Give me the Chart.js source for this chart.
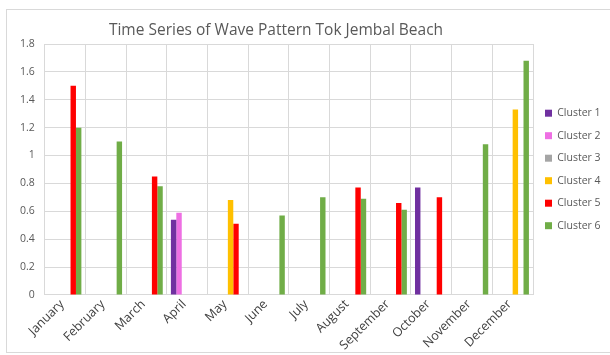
<!DOCTYPE html>
<html>
<head>
<meta charset="utf-8">
<script src="https://cdn.jsdelivr.net/npm/chart.js@4/dist/chart.umd.min.js"></script>
<style>
  html, body { margin: 0; padding: 0; background: #ffffff; }
  #wrap { position: relative; width: 610px; height: 355px; overflow: hidden; }
  #frame { position: absolute; left: 6px; top: 9px; width: 700px; height: 344px; border: 1px solid #d9d9d9; box-sizing: border-box; }
  #chart { position: absolute; left: 0; top: 0; }
</style>
</head>
<body>
<div id="wrap">
  <div id="frame"></div>
  <canvas id="chart" width="610" height="355"></canvas>
</div>
<script>
// Months on the category axis
const months = ['January', 'February', 'March', 'April', 'May', 'June',
                'July', 'August', 'September', 'October', 'November', 'December'];

// Wave height per cluster and month (null = no value that month)
const cluster1 = [null, null, null, 0.54, null, null, null, null, null, 0.77, null, null];
const cluster2 = [null, null, null, 0.59, null, null, null, null, null, null, null, null];
const cluster3 = [null, null, null, null, null, null, null, null, null, null, null, null];
const cluster4 = [null, null, null, null, 0.68, null, null, null, null, null, null, 1.33];
const cluster5 = [1.50, null, 0.85, null, 0.51, null, null, 0.77, 0.66, 0.70, null, null];
const cluster6 = [1.20, 1.10, 0.78, null, null, 0.57, 0.70, 0.69, 0.61, null, 1.08, 1.68];

const seriesNames = ['Cluster 1', 'Cluster 2', 'Cluster 3', 'Cluster 4', 'Cluster 5', 'Cluster 6'];
const seriesColors = ['#7030A0', '#EE6FE3', '#A5A5A5', '#FFC000', '#FF0000', '#70AD47'];
const seriesValues = [cluster1, cluster2, cluster3, cluster4, cluster5, cluster6];

// Y axis range
const yMin = 0;
const yMax = 1.8;
const yStep = 0.2;

const chartTitle = 'Time Series of Wave Pattern Tok Jembal Beach';

const FONT = "'Open Sans', 'Liberation Sans', sans-serif";
const GRID = '#d9d9d9';

// Title centred over the whole chart frame (which runs past the right of the canvas)
const frameTitle = {
  id: 'frameTitle',
  afterDraw(chart, args, opts) {
    const ctx = chart.ctx;
    ctx.save();
    ctx.font = opts.font;
    ctx.fillStyle = opts.color;
    ctx.textAlign = 'center';
    ctx.textBaseline = 'middle';
    ctx.fillText(opts.text, opts.x, opts.y);
    ctx.restore();
  }
};

new Chart(document.getElementById('chart'), {
  type: 'bar',
  data: {
    labels: months,
    datasets: seriesValues.map((vals, i) => ({
      label: seriesNames[i],
      data: vals,
      backgroundColor: seriesColors[i],
      borderWidth: 0,
      categoryPercentage: 0.8,
      barPercentage: 1.0
    }))
  },
  plugins: [frameTitle],
  options: {
    responsive: false,
    animation: false,
    devicePixelRatio: 1,
    layout: { padding: { left: 10, right: 0, top: 44, bottom: 0 } },
    plugins: {
      frameTitle: {
        text: chartTitle,
        color: '#595959',
        font: "15.5px " + FONT,
        x: 276,
        y: 31
      },
      title: { display: false },
      legend: {
        position: 'right',
        fullSize: false,
        align: 'center',
        maxWidth: 77,
        labels: {
          boxWidth: 7,
          boxHeight: 7,
          padding: 12,
          color: '#595959',
          font: { family: FONT, size: 10.5 }
        }
      },
      tooltip: { enabled: false }
    },
    scales: {
      x: {
        offset: true,
        grid: { color: GRID, offset: true, drawTicks: false },
        border: { color: GRID },
        ticks: {
          color: '#404040',
          font: { family: FONT, size: 12.5 },
          minRotation: 45,
          maxRotation: 45,
          autoSkip: false,
          padding: 2,
          labelOffset: -3
        },
        // slanted month names may hang past the plot's left edge
        afterFit: (scale) => { scale.paddingLeft = 0; scale.paddingRight = 0; }
      },
      y: {
        min: yMin,
        max: yMax,
        grid: { color: GRID, drawTicks: false },
        border: { color: GRID },
        ticks: {
          stepSize: yStep,
          color: '#595959',
          font: { family: FONT, size: 10.5 },
          padding: 10,
          callback: (v) => String(Math.round(v * 10) / 10)
        }
      }
    }
  }
});
</script>
</body>
</html>
